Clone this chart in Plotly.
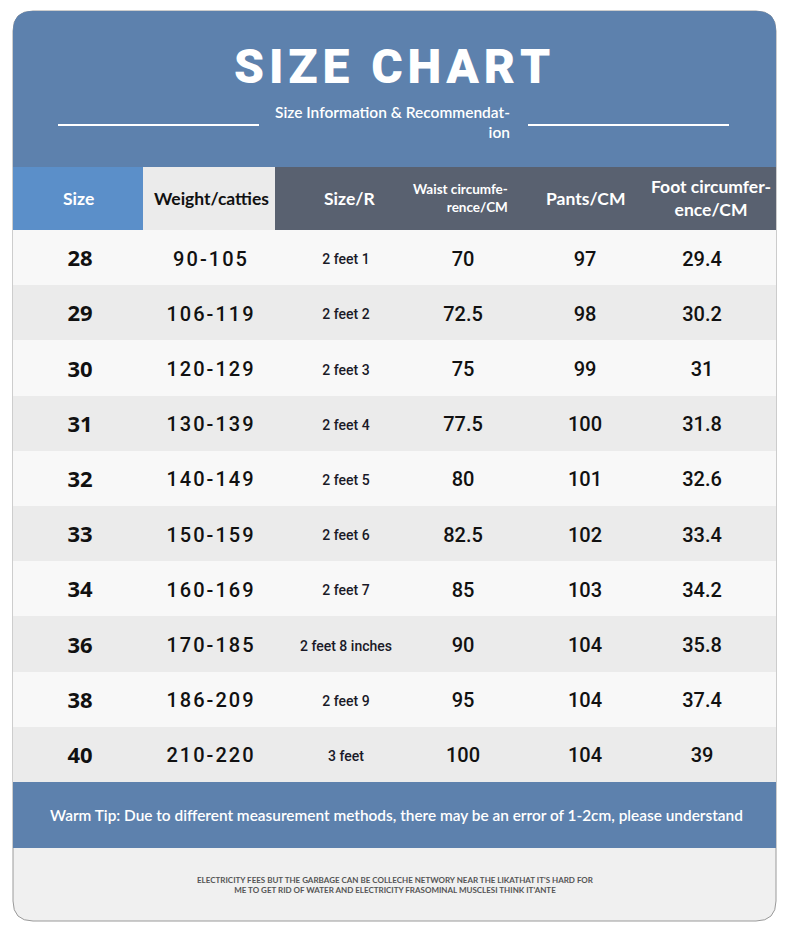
import plotly.graph_objects as go

# table data
sizes = ["28", "29", "30", "31", "32", "33", "34", "36", "38", "40"]
weights = ["90-105", "106-119", "120-129", "130-139", "140-149",
           "150-159", "160-169", "170-185", "186-209", "210-220"]
size_r = ["2 feet 1", "2 feet 2", "2 feet 3", "2 feet 4", "2 feet 5",
          "2 feet 6", "2 feet 7", "2 feet 8 inches", "2 feet 9", "3 feet"]
waist = ["70", "72.5", "75", "77.5", "80", "82.5", "85", "90", "95", "100"]
pants = ["97", "98", "99", "100", "101", "102", "103", "104", "104", "104"]
foot = ["29.4", "30.2", "31", "31.8", "32.6", "33.4", "34.2", "35.8", "37.4", "39"]
headers = ["Size", "Weight/catties", "Size/R", "Waist circumfe-<br>rence/CM",
           "Pants/CM", "Foot circumfer-<br>ence/CM"]

title = "SIZE CHART"
subtitle = "Size Information & Recommendat-<br>ion"
tip = ("Warm Tip: Due to different measurement methods, there may be an error "
       "of 1-2cm, please understand")
footer = ("ELECTRICITY FEES BUT THE GARBAGE CAN BE COLLECHE NETWORY NEAR THE LIKATHAT IT'S HARD FOR<br>"
          "ME TO GET RID OF WATER AND ELECTRICITY FRASOMINAL MUSCLESI THINK IT'ANTE")


def spaced(s, gap):
    # fake letter spacing
    return gap.join(s)


# geometry (pixel units, y downwards); page body has an 8px margin
W, H, OFF = 790, 936, 8
X0, X1, Y0, Y1, R = 13, 776, 11, 921, 20
HEAD_TOP, HEAD_BOT, ROW_H = 167, 230, 55.2
TIP_BOT = 848
TEXT_DY = 3
col_x = [80, 210, 346, 463, 585, 702]
head_x = [78, 211, 349, 510, 585, 711]

BLUE = "#5d81ad"
n = len(sizes)
y_edges = [HEAD_TOP, HEAD_BOT] + [HEAD_BOT + ROW_H * (i + 1) for i in range(n)]
row_y = [HEAD_BOT + ROW_H * (i + 0.5) + TEXT_DY for i in range(n)]
TIP_TOP = y_edges[-1]

# fill codes: 0 size head, 1 weight head, 2 dark head, 3 light row, 4 grey row
z = [[0, 1, 2]] + [[3 + i % 2] * 3 for i in range(n)]
cell_colors = ["#5b8fc9", "#ebebeb", "#596170", "#f8f8f8", "#ebebeb"]
scale = []
for i, c in enumerate(cell_colors):
    scale.append([i / len(cell_colors), c])
    scale.append([(i + 1) / len(cell_colors), c])

fig = go.Figure()
fig.add_trace(go.Heatmap(x=[X0, 143, 275, X1], y=y_edges, z=z, colorscale=scale,
                         zmin=0, zmax=len(cell_colors), showscale=False,
                         hoverinfo="skip"))

body_cols = [sizes, [spaced(w, "\u200a") for w in weights], size_r, waist, pants, foot]
body_fonts = [
    dict(family="Noto Sans", size=22, color="#111111", weight=700),
    dict(family="Roboto", size=20, color="#111111", weight=500),
    dict(family="Roboto", size=14, color="#1a1a28", weight=500),
    dict(family="Roboto", size=20, color="#111111", weight=500),
    dict(family="Roboto", size=20, color="#111111", weight=500),
    dict(family="Roboto", size=20, color="#111111", weight=500),
]
for vals, cx, f in zip(body_cols, col_x, body_fonts):
    fig.add_trace(go.Scatter(x=[cx] * n, y=row_y, text=vals, mode="text",
                             textposition="middle center", textfont=f,
                             hoverinfo="skip"))

round_rect = (f"M {X0+R},{Y0} L {X1-R},{Y0} Q {X1},{Y0} {X1},{Y0+R} "
              f"L {X1},{Y1-R} Q {X1},{Y1} {X1-R},{Y1} L {X0+R},{Y1} "
              f"Q {X0},{Y1} {X0},{Y1-R} L {X0},{Y0+R} Q {X0},{Y0} {X0+R},{Y0} Z")
top_band = (f"M {X0+R},{Y0} L {X1-R},{Y0} Q {X1},{Y0} {X1},{Y0+R} "
            f"L {X1},{HEAD_TOP} L {X0},{HEAD_TOP} L {X0},{Y0+R} Q {X0},{Y0} {X0+R},{Y0} Z")
shapes = [
    dict(type="path", path=round_rect, fillcolor="#f0f0f0",
         line=dict(color="#9a9a9a", width=1), layer="below"),
    dict(type="path", path=top_band, fillcolor=BLUE, line=dict(width=0), layer="below"),
    dict(type="rect", x0=X0, x1=X1, y0=TIP_TOP, y1=TIP_BOT, fillcolor=BLUE,
         line=dict(width=0), layer="below"),
    dict(type="line", x0=58, x1=259, y0=125, y1=125, line=dict(color="white", width=2)),
    dict(type="line", x0=528, x1=729, y0=125, y1=125, line=dict(color="white", width=2)),
]

head_font = dict(family="Lato", size=17.5, weight=700)
annotations = [
    dict(x=392, y=66, text=spaced(title, "\u200a"), showarrow=False,
         font=dict(family="Roboto", size=48, color="white", weight=900)),
    dict(x=512, y=122, text=subtitle, showarrow=False, xanchor="right", align="right",
         font=dict(family="Lato", size=15.5, color="white", weight=600)),
    dict(x=396, y=815, text=tip, showarrow=False,
         font=dict(family="Lato", size=15.4, color="white", weight=600)),
    dict(x=395, y=885, text=footer, showarrow=False,
         font=dict(family="Lato", size=8, color="#555555", weight=700)),
]
for i, (h, hx) in enumerate(zip(headers, head_x)):
    color = "#111111" if i == 1 else "white"
    f = dict(head_font, color=color)
    if i == 3:
        annotations.append(dict(x=hx, y=198, text=h, showarrow=False, xanchor="right",
                                align="right", font=dict(f, size=13.5)))
    else:
        annotations.append(dict(x=hx, y=198, text=h, showarrow=False, font=f))

fig.update_layout(
    width=W, height=H, margin=dict(l=0, r=0, t=0, b=0),
    paper_bgcolor="white", plot_bgcolor="white", showlegend=False,
    xaxis=dict(range=[OFF, W + OFF], visible=False, fixedrange=True),
    yaxis=dict(range=[H + OFF, OFF], visible=False, fixedrange=True),
    shapes=shapes, annotations=annotations,
)
fig.write_html("out.html")
